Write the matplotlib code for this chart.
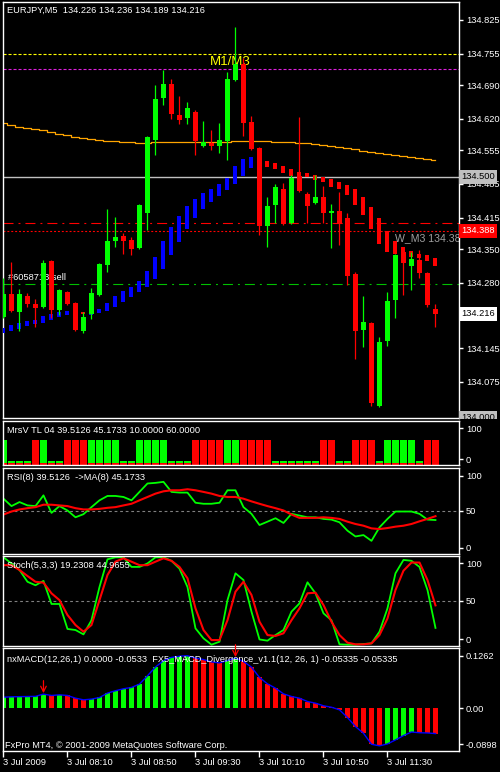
import numpy as np
import matplotlib
matplotlib.use("Agg")
import matplotlib.pyplot as plt
from matplotlib.transforms import Bbox, TransformedBbox, blended_transform_factory

plt.rcParams['font.family'] = ['Liberation Sans', 'DejaVu Sans']
plt.rcParams['lines.scale_dashes'] = False

# ---- data (EURJPY M5, 3 Jul 2009) ----
c_open = [134.209, 134.257, 134.220, 134.253, 134.236, 134.230, 134.325, 134.224, 134.261, 134.238,
          134.180, 134.215, 134.255, 134.317, 134.367, 134.377, 134.369, 134.352, 134.425, 134.576,
          134.663, 134.692, 134.628, 134.622, 134.634, 134.564, 134.570, 134.564, 134.574, 134.700,
          134.733, 134.613, 134.559, 134.398, 134.441, 134.474, 134.404, 134.501, 134.464, 134.445,
          134.458, 134.425, 134.429, 134.414, 134.298, 134.182, 134.197, 134.025, 134.159, 134.244,
          134.344, 134.315, 134.327, 134.300, 134.226]
c_high = [134.290, 134.323, 134.267, 134.259, 134.247, 134.327, 134.327, 134.267, 134.263, 134.240,
          134.220, 134.269, 134.321, 134.433, 134.416, 134.383, 134.375, 134.443, 134.584, 134.690,
          134.721, 134.702, 134.667, 134.655, 134.638, 134.615, 134.597, 134.611, 134.717, 134.810,
          134.746, 134.626, 134.561, 134.458, 134.485, 134.487, 134.503, 134.624, 134.468, 134.503,
          134.481, 134.443, 134.468, 134.425, 134.302, 134.253, 134.199, 134.168, 134.261, 134.340,
          134.354, 134.344, 134.348, 134.302, 134.236]
c_low = [134.207, 134.219, 134.180, 134.230, 134.189, 134.228, 134.207, 134.213, 134.234, 134.180,
         134.176, 134.205, 134.253, 134.302, 134.354, 134.340, 134.338, 134.350, 134.389, 134.545,
         134.649, 134.619, 134.609, 134.609, 134.545, 134.561, 134.555, 134.549, 134.535, 134.698,
         134.584, 134.555, 134.379, 134.354, 134.404, 134.400, 134.402, 134.468, 134.404, 134.443,
         134.404, 134.352, 134.358, 134.276, 134.122, 134.147, 134.025, 134.023, 134.149, 134.207,
         134.255, 134.265, 134.290, 134.230, 134.189]
c_close = [134.257, 134.222, 134.257, 134.236, 134.228, 134.321, 134.224, 134.265, 134.236, 134.182,
           134.209, 134.259, 134.319, 134.367, 134.375, 134.367, 134.350, 134.441, 134.582, 134.661,
           134.692, 134.630, 134.617, 134.642, 134.574, 134.572, 134.564, 134.576, 134.702, 134.733,
           134.611, 134.557, 134.398, 134.439, 134.479, 134.402, 134.497, 134.470, 134.439, 134.458,
           134.425, 134.429, 134.404, 134.294, 134.180, 134.199, 134.031, 134.157, 134.242, 134.338,
           134.321, 134.329, 134.300, 134.234, 134.216]

# smoothed heiken-ashi style blocks (B = blue, R = red)
ha_top = [134.187, 134.193, 134.197, 134.201, 134.203, 134.211, 134.215, 134.220, 134.222, 134.226,
          134.220, 134.224, 134.226, 134.238, 134.253, 134.263, 134.271, 134.284, 134.305, 134.334,
          134.367, 134.396, 134.419, 134.439, 134.454, 134.466, 134.474, 134.485, 134.497, 134.522,
          134.537, 134.541, 134.537, 134.532, 134.528, 134.522, 134.516, 134.510, 134.508, 134.503,
          134.499, 134.495, 134.489, 134.483, 134.474, 134.458, 134.437, 134.414, 134.387, 134.367,
          134.354, 134.346, 134.340, 134.338, 134.331]
ha_bottom = [134.176, 134.180, 134.184, 134.191, 134.195, 134.197, 134.203, 134.209, 134.213, 134.215,
             134.215, 134.213, 134.218, 134.222, 134.230, 134.240, 134.251, 134.261, 134.271, 134.288,
             134.309, 134.338, 134.365, 134.392, 134.414, 134.433, 134.447, 134.460, 134.472, 134.485,
             134.501, 134.518, 134.526, 134.520, 134.516, 134.508, 134.501, 134.501, 134.499, 134.493,
             134.489, 134.479, 134.474, 134.462, 134.441, 134.421, 134.392, 134.361, 134.344, 134.340,
             134.342, 134.334, 134.331, 134.325, 134.315]
ha_trend = "BBBBBBBBBB" + "R" + "B" * 21 + "R" * 23

ma_slow = [134.611, 134.607, 134.604, 134.601, 134.599, 134.596, 134.593, 134.589, 134.586, 134.583,
           134.580, 134.578, 134.576, 134.574, 134.573, 134.572, 134.571, 134.570, 134.570, 134.571,
           134.571, 134.571, 134.571, 134.571, 134.572, 134.572, 134.572, 134.572, 134.572, 134.574,
           134.574, 134.574, 134.573, 134.573, 134.572, 134.572, 134.571, 134.570, 134.569, 134.568,
           134.566, 134.564, 134.561, 134.559, 134.557, 134.554, 134.552, 134.549, 134.547, 134.545,
           134.543, 134.541, 134.539, 134.537, 134.534]

levels = {'yellow': 134.755, 'magenta': 134.723, 'grey': 134.500,
          'red_dash': 134.404, 'red_dot': 134.388, 'green': 134.278}
price_ticks = [134.825, 134.755, 134.690, 134.620, 134.555, 134.485, 134.415,
               134.350, 134.280, 134.145, 134.075]

# MrsV TL: G = green 60, R = red 60, s = small 10
mrsv = "G" + "sss" + "R" + "G" + "ss" + "RRR" + "GGGG" + "ss" + "GGGG" + "sss" + "RRRR" + "GG" \
       + "RRRR" + "ssssss" + "RR" + "ss" + "RRR" + "s" + "GGGG" + "s" + "RR"

rsi = [64.3, 55.7, 60.4, 56.5, 55.7, 68.2, 47.8, 55.7, 50.6, 42.7,
       46.3, 54.5, 62.4, 67.5, 67.5, 66.3, 62.4, 72.2, 82.0, 82.7,
       83.9, 72.2, 71.4, 71.4, 59.6, 58.4, 58.4, 59.6, 74.1, 74.1,
       54.5, 46.7, 33.7, 37.6, 41.6, 36.1, 46.7, 44.7, 42.7, 42.7,
       40.8, 40.0, 36.9, 27.1, 20.4, 22.0, 15.3, 31.0, 40.8, 49.4,
       49.4, 49.4, 46.7, 40.0, 39.5]
rsi_ma = [45.9, 49.4, 51.8, 53.3, 54.5, 57.3, 57.3, 56.5, 55.7, 53.3,
          51.8, 51.8, 52.5, 53.7, 54.5, 56.5, 58.4, 62.4, 66.3, 70.2,
          72.9, 74.1, 74.1, 75.3, 74.1, 72.2, 70.2, 67.5, 66.3, 66.3,
          64.3, 61.2, 58.4, 55.7, 53.3, 50.6, 45.9, 42.0, 42.0, 42.0,
          42.7, 42.0, 40.8, 37.6, 34.9, 32.9, 29.8, 29.0, 30.2, 31.8,
          32.9, 34.9, 38.0, 40.8, 44.0]

stoch_k = [100, 93, 85.5, 72, 68, 73, 46.6, 46.6, 18, 16.8,
           11.8, 28, 66, 97.7, 100, 100, 89, 89, 93, 100,
           100, 96, 87, 66, 18.7, 7.3, 0, 3.4, 51, 81.7,
           74, 37.8, 6, 4.6, 11, 16.8, 37.8, 47.3, 71.4, 58.8,
           35.9, 28, 0.4, 0, 0, 0.8, 1.5, 14.9, 41.6, 81.7,
           97, 96, 89, 62.6, 19.2]
stoch_d = [91, 91, 85.5, 78.6, 72, 71, 58.8, 51, 34, 22.5,
           14.9, 22.5, 51, 79.8, 95, 98.9, 95, 91, 91, 95,
           98.9, 96, 89, 76, 41.6, 16.8, 5.3, 5.3, 28, 60.7,
           72, 56.9, 26.3, 11, 10, 13, 28, 41.6, 58.8, 59.5,
           45.4, 26.3, 11, 2.3, 0.4, 0.4, 1.5, 11, 30, 62.6,
           84.7, 94, 94, 74, 45.0]

macd = [0.0230, 0.0238, 0.0242, 0.0245, 0.0248, 0.0295, 0.0266, 0.0280, 0.0266, 0.0210,
        0.0175, 0.0190, 0.0224, 0.0316, 0.0365, 0.0407, 0.0435, 0.0505, 0.0680, 0.0863,
        0.0996, 0.1065, 0.1090, 0.1100, 0.1050, 0.1020, 0.0970, 0.0950, 0.1000, 0.1050,
        0.0980, 0.0860, 0.0645, 0.0510, 0.0420, 0.0300, 0.0245, 0.0210, 0.0140, 0.0105,
        0.0050, 0.0020, -0.0035, -0.0196, -0.0386, -0.0526, -0.0757, -0.0790, -0.0750, -0.0666,
        -0.0575, -0.0500, -0.0515, -0.0520, -0.0533]
macd_color = "GGGGGG" + "R" + "G" + "RRR" + "G" * 13 + "RRRR" + "GG" + "R" * 18 + "GGGG" + "RRR"
div_arrows = [5, 29]

time_pos = [0, 8, 16, 24, 32, 40, 48]
time_labels = ["3 Jul 2009", "3 Jul 08:10", "3 Jul 08:50", "3 Jul 09:30",
               "3 Jul 10:10", "3 Jul 10:50", "3 Jul 11:30"]

GREEN, RED, BLUE, WHITE = '#00ff00', '#ff0000', '#0000ff', 'white'
FS = 6.7

W, H = 500, 772
fig = plt.figure(figsize=(W / 100, H / 100), dpi=100, facecolor='black')


def panel(top, bottom):
    a = fig.add_axes([3 / W, 1 - bottom / H, 456 / W, (bottom - top) / H], facecolor='black')
    for s in a.spines.values():
        s.set_color(WHITE)
        s.set_linewidth(1)
    a.set_xlim(-0.06, 56.94)
    a.set_xticks([])
    a.yaxis.tick_right()
    a.tick_params(axis='y', colors=WHITE, length=3, width=1, labelsize=FS, pad=2)
    return a


def side_labels(a, fracs, labels):
    lo, hi = a.get_ylim()
    a.set_yticks([lo + f * (hi - lo) for f in fracs])
    a.set_yticklabels(labels)


x = np.arange(len(c_open))
o, h, l, c = map(np.array, (c_open, c_high, c_low, c_close))

# ---------------- main price chart ----------------
ax = panel(2, 418)
ax.set_ylim(134.000, 134.862)
col = np.where(c >= o, GREEN, RED)
ax.vlines(x, l, h, colors=col, lw=0.9, zorder=4)
ax.bar(x, np.maximum(np.abs(c - o), 0.0025), bottom=np.minimum(o, c), width=0.62,
       color=col, linewidth=0, zorder=5)
ha_col = [BLUE if t == 'B' else RED for t in ha_trend]
ax.bar(x, np.array(ha_top) - np.array(ha_bottom), bottom=ha_bottom, width=0.5,
       color=ha_col, linewidth=0, zorder=3)
ax.plot(x, ma_slow, drawstyle='steps-mid', color='#ffa500', lw=0.9, zorder=2)

ax.axhline(levels['yellow'], color='#ffff00', lw=0.8, ls=(0, (2.2, 1.4)), zorder=1)
ax.axhline(levels['magenta'], color='#e020e0', lw=0.8, ls=(0, (2.2, 1.4)), zorder=1)
ax.axhline(levels['grey'], color='#c0c0c0', lw=1.0, zorder=1)
ax.axhline(levels['red_dash'], color=RED, lw=0.8, ls=(0, (7.2, 3.6, 1.4, 3.6)), zorder=1)
ax.axhline(levels['red_dot'], color=RED, lw=0.8, ls=(0, (1.4, 1.4)), zorder=1)
ax.axhline(levels['green'], color='#00c000', lw=0.8, ls=(0, (7.2, 3.6, 1.4, 3.6)), zorder=1)

ax.set_yticks(price_ticks)
ax.set_yticklabels(['%.3f' % v for v in price_ticks])

ax.text(0.009, 0.981, "EURJPY,M5  134.226 134.236 134.189 134.216", transform=ax.transAxes,
        color=WHITE, fontsize=FS, va='center', ha='left')
ax.text(25.8, levels['magenta'] + 0.003, "M1/M3", color='#ffff00', fontsize=9.5,
        va='bottom', ha='left', zorder=2)
ax.text(0.6, levels['green'] + 0.003, "#6058713 sell", color=WHITE, fontsize=FS,
        va='bottom', ha='left', zorder=2)
ax.text(49.0, levels['red_dot'] - 0.005, "W_M3 134.388", color='#a0a0a0', fontsize=7.6,
        va='top', ha='left', zorder=2, clip_on=True)

blend = blended_transform_factory(ax.transAxes, ax.transData)
for val, fc, tc in [(levels['grey'], '#c0c0c0', 'black'), (levels['red_dot'], RED, WHITE),
                    (c_close[-1], WHITE, 'black')]:
    ax.text(1.005, val, '%.3f' % val, transform=blend, color=tc, fontsize=FS, va='center',
            ha='left', bbox=dict(boxstyle='square,pad=0.25', fc=fc, ec='none'), clip_on=False,
            zorder=10)
t0 = ax.text(1.005, 134.000, '134.000', transform=blend, color='black', fontsize=FS, va='center',
             ha='left', bbox=dict(boxstyle='square,pad=0.25', fc='#c0c0c0', ec='none'), zorder=10)
t0.set_clip_on(True)
t0.set_clip_box(TransformedBbox(Bbox([[0.9, 1 - 419 / H], [1.0, 1.0]]), fig.transFigure))

# ---------------- MrsV TL ----------------
a1 = panel(421, 465)
a1.set_ylim(0, 105)
mv_val = [10 if s == 's' else 60 for s in mrsv]
mv_col = [RED if s == 'R' else GREEN for s in mrsv]
a1.bar(x, mv_val, width=0.83, color=mv_col, linewidth=0)
a1.bar(x, [4] * len(x), width=0.83, color=RED, linewidth=0)
side_labels(a1, [0.84, 0.136], ['100', '0'])
a1.text(0.009, 0.773, "MrsV TL 04 39.5126 45.1733 10.0000 60.0000", transform=a1.transAxes,
        color=WHITE, fontsize=FS, va='center')

# ---------------- RSI ----------------
a2 = panel(468, 554)
a2.set_ylim(0, 100)
a2.axhline(50, color='#808080', lw=0.8, ls=(0, (2, 2)))
a2.plot(x, rsi, color=GREEN, lw=1.3)
a2.plot(x, rsi_ma, color=RED, lw=1.5)
side_labels(a2, [0.91, 0.5, 0.073], ['100', '50', '0'])
a2.text(0.009, 0.884, "RSI(8) 39.5126  ->MA(8) 45.1733", transform=a2.transAxes,
        color=WHITE, fontsize=FS, va='center')

# ---------------- Stochastic ----------------
a3 = panel(556, 646)
a3.set_ylim(-1.5, 101.5)
a3.axhline(50, color='#808080', lw=0.8, ls=(0, (2, 2)))
a3.plot(x, stoch_k, color=GREEN, lw=1.3)
a3.plot(x, stoch_d, color=RED, lw=1.5)
side_labels(a3, [0.92, 0.5, 0.074], ['100', '50', '0'])
a3.text(0.009, 0.889, "Stoch(5,3,3) 19.2308 44.9655", transform=a3.transAxes,
        color=WHITE, fontsize=FS, va='center')

# ---------------- MACD ----------------
a4 = panel(648, 751)
a4.set_ylim(-0.0898, 0.1262)
a4.bar(x, macd, width=0.6, color=[GREEN if m == 'G' else RED for m in macd_color], linewidth=0)
a4.plot(x, macd, color=BLUE, lw=1.0)
for i in div_arrows:
    a4.annotate('', xy=(i, macd[i] + 0.002), xytext=(0, 9), textcoords='offset points',
                arrowprops=dict(arrowstyle='->', color=RED, lw=0.9, shrinkA=0, shrinkB=0))
side_labels(a4, [0.925, 0.415, 0.065], ['0.1262', '0.00', '-0.0898'])
a4.text(0.009, 0.893, "nxMACD(12,26,1) 0.0000 -0.0533  FX5_MACD_Divergence_v1.1(12, 26, 1) -0.05335 -0.05335",
        transform=a4.transAxes, color=WHITE, fontsize=FS, va='center')
a4.text(0.004, 0.049, "FxPro MT4, \u00a9 2001-2009 MetaQuotes Software Corp.", transform=a4.transAxes,
        color=WHITE, fontsize=FS, va='center')
a4.set_xticks(time_pos)
a4.set_xticklabels(time_labels, ha='left')
a4.tick_params(axis='x', colors=WHITE, length=4, width=1, labelsize=FS, pad=1)

fig.savefig('out.png', dpi=100, facecolor='black')
